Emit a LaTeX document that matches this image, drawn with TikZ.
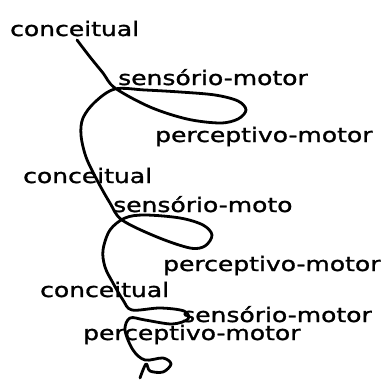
\documentclass[tikz,border=0pt]{standalone}
\usepackage{fontspec}
\newfontfamily\sketchfont[FakeStretch=1.25, FakeBold=1.3]{DejaVu Sans}
\usetikzlibrary{positioning}
\tikzset{
  lbl/.style={anchor=base west, inner sep=0pt, font=\sketchfont\fontsize{20}{22}\selectfont},
  spiral/.style={line width=2.8pt, line cap=round, line join=round, draw=black}
}
\begin{document}
\begin{tikzpicture}[x=1pt, y=-1pt]
\useasboundingbox (0,0) rectangle (388,380);

% labels of the three turns
\node[lbl] (con1) at (10,36) {conceitual};
\node[lbl] (sen1) at (118,85) {sensório-motor};
\node[lbl] (per1) at (155,142) {perceptivo-motor};
\node[lbl] (con2) at (23,183) {conceitual};
\node[lbl] (sen2) at (113,212) {sensório-moto};
\node[lbl] (per2) at (163,271) {perceptivo-motor};
\node[lbl] (con3) at (40,297) {conceitual};
\node[lbl] (sen3) at (182,322) {sensório-motor};
\node[lbl] (per3) at (83,340) {perceptivo-motor};

% the spiral
\draw[spiral] plot[smooth, tension=0.55] coordinates {
  (77,40) (90,57) (103,73) (115,88) (150,107) (187,119) (220,123) (238,119)
  (246,110) (238,101) (215,95) (180,92) (145,90) (115,89) (95,102) (83,118)
  (81,135) (86,157) (97,180) (110,203) (122,220) (157,237) (190,248) (205,246)
  (212,235) (203,225) (180,218) (145,215) (125,218) (110,230) (103,250) (105,267)
  (113,283) (123,300) (132,310) (160,308) (184,311) (188,319) (172,324) (145,320)
  (130,318) (125,330) (133,350) (145,360) (163,358) (171,364) (163,372) (150,371)
  (146,364) (140,378)};

\end{tikzpicture}
\end{document}
